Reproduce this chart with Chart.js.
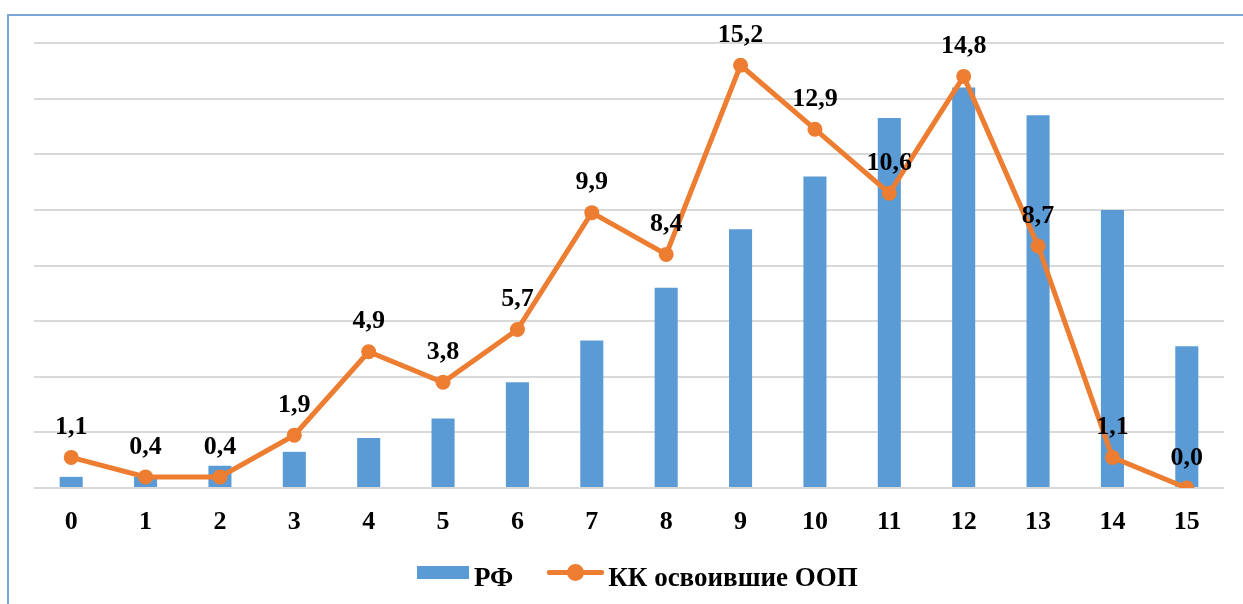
<!DOCTYPE html>
<html>
<head>
<meta charset="utf-8">
<script src="https://cdn.jsdelivr.net/npm/chart.js@4.4.1/dist/chart.umd.min.js"></script>
<style>
  html, body { margin: 0; padding: 0; background: #fff; overflow: hidden; }
  #wrap { position: relative; width: 1243px; height: 604px; }
  #frame { position: absolute; left: 7px; top: 14px; width: 1260px; height: 620px; border: 2px solid #7ba7db; box-sizing: border-box; }
  #chartBox { position: absolute; left: 0; top: 0; width: 1243px; height: 604px; }
  #legend { position: absolute; top: 561px; left: 417px; height: 32px; display: flex; align-items: center;
    font: bold 27px "Liberation Serif", "Times New Roman", serif; color: #000; line-height: 32px; }
  .lg { display: flex; align-items: center; }
  .box { width: 52px; height: 13px; background: #5b9bd5; margin-right: 5px; margin-top: -9px; }
  .ln { position: relative; width: 57px; height: 5px; background: #ed7d31; margin-left: 34px; margin-right: 4px; margin-top: -9px; border-radius: 2px; }
  .ln::after { content: ''; position: absolute; left: 20px; top: -6px; width: 17px; height: 17px; border-radius: 50%; background: #ed7d31; }
</style>
</head>
<body>
<div id="wrap">
  <div id="frame"></div>
  <div id="chartBox"><canvas id="chart"></canvas></div>
  <div id="legend">
    <div class="lg"><div class="box"></div>РФ</div>
    <div class="lg"><div class="ln"></div>КК освоившие ООП</div>
  </div>
</div>
<script>
const categories = ['0', '1', '2', '3', '4', '5', '6', '7', '8', '9', '10', '11', '12', '13', '14', '15'];
const rfValues = [0.4, 0.4, 0.8, 1.3, 1.8, 2.5, 3.8, 5.3, 7.2, 9.3, 11.2, 13.3, 14.4, 13.4, 10.0, 5.1];
const kkValues = [1.1, 0.4, 0.4, 1.9, 4.9, 3.8, 5.7, 9.9, 8.4, 15.2, 12.9, 10.6, 14.8, 8.7, 1.1, 0.0];
const seriesNames = ['РФ', 'КК освоившие ООП'];

// подписи значений над точками линии
const pointLabels = {
  id: 'pointLabels',
  afterDatasetsDraw(chart) {
    const meta = chart.getDatasetMeta(1);
    const ctx = chart.ctx;
    ctx.save();
    ctx.font = 'bold 26px "Liberation Serif", "Times New Roman", serif';
    ctx.fillStyle = '#000';
    ctx.textAlign = 'center';
    ctx.textBaseline = 'middle';
    meta.data.forEach((p, i) => {
      ctx.fillText(kkValues[i].toFixed(1).replace('.', ','), p.x, p.y - 30);
    });
    ctx.restore();
  }
};

new Chart(document.getElementById('chart'), {
  type: 'bar',
  data: {
    labels: categories,
    datasets: [
      { type: 'bar', label: seriesNames[0], data: rfValues, backgroundColor: '#5b9bd5',
        barPercentage: 0.31, categoryPercentage: 1, order: 2 },
      { type: 'line', label: seriesNames[1], data: kkValues, borderColor: '#ed7d31', backgroundColor: '#ed7d31',
        borderWidth: 5, pointRadius: 7.5, pointBackgroundColor: '#ed7d31', pointBorderWidth: 0,
        tension: 0, order: 1 }
    ]
  },
  plugins: [pointLabels],
  options: {
    responsive: true,
    maintainAspectRatio: false,
    animation: false,
    layout: { padding: { left: 34, right: 19, top: 43, bottom: 0 } },
    plugins: { legend: { display: false }, tooltip: { enabled: false } },
    scales: {
      x: {
        grid: { display: false },
        border: { display: false },
        ticks: { color: '#000', padding: 11, font: { family: '"Liberation Serif", "Times New Roman", serif', size: 26, weight: 'bold' } },
        afterFit: s => { s.height = 116; }
      },
      y: {
        min: 0, max: 16,
        ticks: { display: false, stepSize: 2 },
        border: { display: false },
        grid: { color: '#d9d9d9', lineWidth: 2, drawTicks: false },
        afterFit: s => { s.width = 0; }
      }
    }
  }
});
</script>
</body>
</html>
